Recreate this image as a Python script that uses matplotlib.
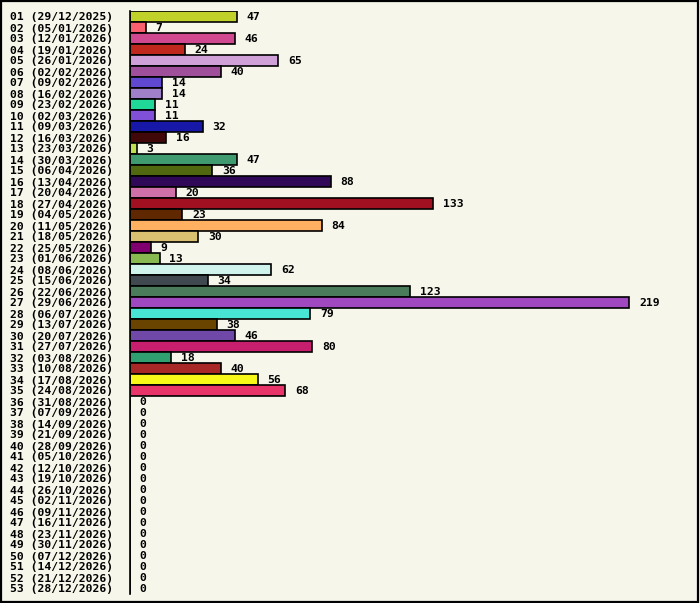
import matplotlib
matplotlib.use("Agg")
import matplotlib.pyplot as plt
from matplotlib.patches import Rectangle

weeks = ["29/12/2025", "05/01/2026", "12/01/2026", "19/01/2026", "26/01/2026",
         "02/02/2026", "09/02/2026", "16/02/2026", "23/02/2026", "02/03/2026",
         "09/03/2026", "16/03/2026", "23/03/2026", "30/03/2026", "06/04/2026",
         "13/04/2026", "20/04/2026", "27/04/2026", "04/05/2026", "11/05/2026",
         "18/05/2026", "25/05/2026", "01/06/2026", "08/06/2026", "15/06/2026",
         "22/06/2026", "29/06/2026", "06/07/2026", "13/07/2026", "20/07/2026",
         "27/07/2026", "03/08/2026", "10/08/2026", "17/08/2026", "24/08/2026",
         "31/08/2026", "07/09/2026", "14/09/2026", "21/09/2026", "28/09/2026",
         "05/10/2026", "12/10/2026", "19/10/2026", "26/10/2026", "02/11/2026",
         "09/11/2026", "16/11/2026", "23/11/2026", "30/11/2026", "07/12/2026",
         "14/12/2026", "21/12/2026", "28/12/2026"]

counts = [47, 7, 46, 24, 65, 40, 14, 14, 11, 11, 32, 16, 3, 47, 36, 88, 20, 133,
          23, 84, 30, 9, 13, 62, 34, 123, 219, 79, 38, 46, 80, 18, 40, 56, 68,
          0, 0, 0, 0, 0, 0, 0, 0, 0, 0, 0, 0, 0, 0, 0, 0, 0, 0]

colors = ["#c0d22a", "#f86070", "#d0488f", "#c0281e", "#d0a0d8", "#a0509a",
          "#6048d0", "#a080c8", "#20d898", "#8050d8", "#1818a8", "#400808",
          "#c0e050", "#409a70", "#506810", "#300858", "#d070a8", "#a01020",
          "#602800", "#ffb060", "#d8c070", "#800070", "#88b850", "#d0f4ec",
          "#404850", "#4a7c5c", "#a048c0", "#48e4d4", "#684400", "#7048a8",
          "#c81e6e", "#30a070", "#a82828", "#f8f818", "#e83468"]
colors = colors + ["#ffffff"] * (len(counts) - len(colors))

labels = ["%02d (%s)" % (i + 1, w) for i, w in enumerate(weeks)]

bg = "#f6f6ea"
font = dict(family="DejaVu Sans Mono", weight="bold", size=8.2)

fig = plt.figure(figsize=(7.0, 6.03), dpi=100, facecolor=bg)
fig.patches.append(Rectangle((0.0015, 0.002), 0.995, 0.996, transform=fig.transFigure,
                             fill=False, edgecolor="black", linewidth=1.6))

ax = fig.add_axes([130 / 700, 9 / 603, 560 / 700, 583 / 603])
ax.set_facecolor(bg)

y = list(range(len(counts)))
ax.barh(y, counts, height=1.0, color=colors, edgecolor="black", linewidth=1.2)

ax.set_ylim(len(counts) - 0.5, -0.5)
ax.set_xlim(0, 560 / 2.28)

for i, v in enumerate(counts):
    ax.annotate(str(v), (v, i), xytext=(7, -0.5), textcoords="offset points",
                va="center", ha="left", **font)

ax.set_yticks(y)
ax.set_yticklabels(labels, **font)
ax.tick_params(axis="y", length=0, pad=12)
ax.set_xticks([])
for side in ["top", "right", "bottom"]:
    ax.spines[side].set_visible(False)
ax.spines["left"].set_linewidth(1.2)

fig.savefig("out.png", dpi=100, facecolor=bg)
